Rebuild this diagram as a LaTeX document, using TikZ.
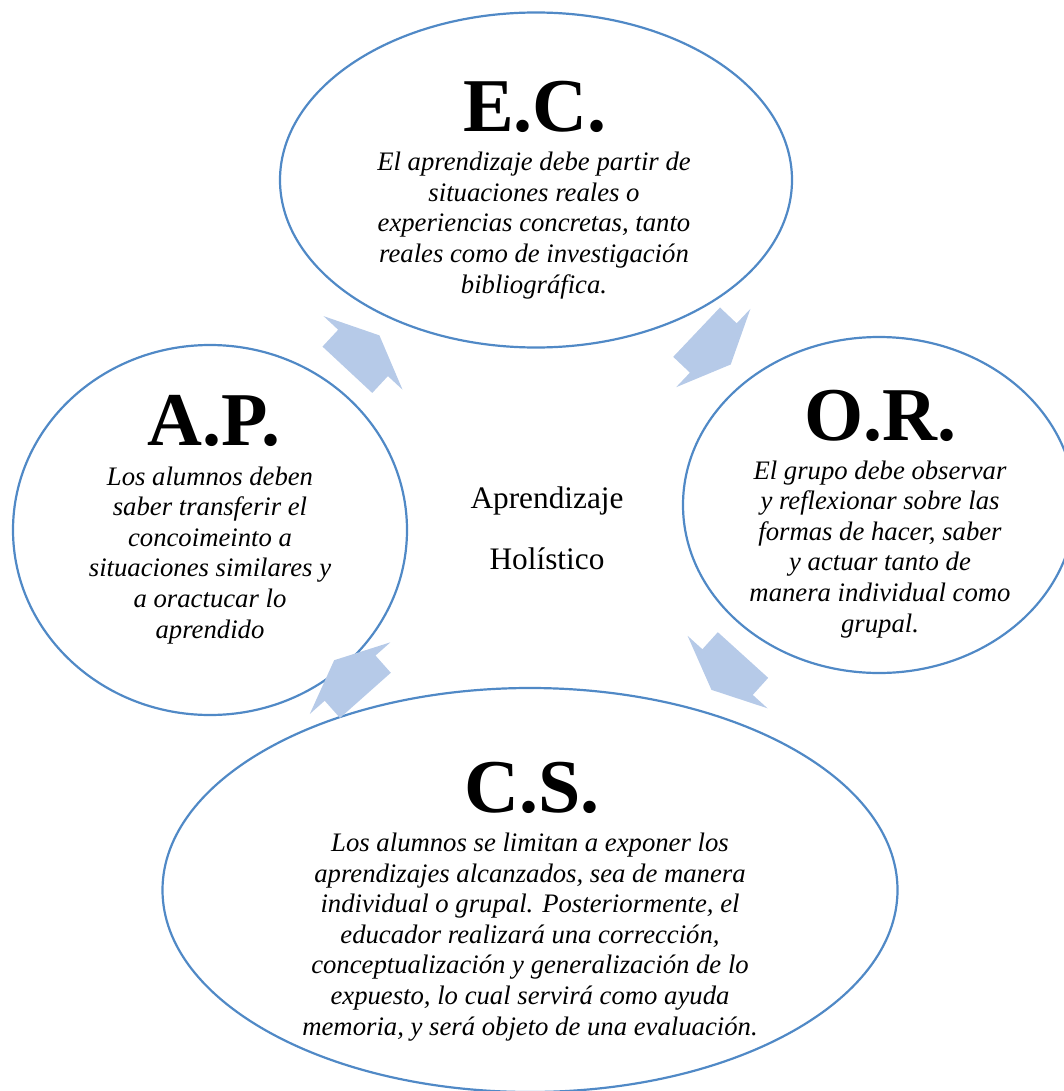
\documentclass[tikz,border=0pt]{standalone}
\usepackage{fontspec}
\setmainfont{Liberation Serif}
\usetikzlibrary{shapes.geometric,positioning,decorations.markings}
\definecolor{ringblue}{HTML}{5089C6}
\definecolor{flowblue}{HTML}{B6CAE8}
\tikzset{
  bubble/.style={ellipse, draw=ringblue, line width=2.2pt, inner sep=0pt},
  title/.style={anchor=base, inner sep=0pt, font=\fontsize{76}{80}\selectfont\bfseries},
  body/.style={anchor=base, inner sep=0pt, align=center, font=\fontsize{26.7}{30.6}\selectfont\itshape},
  flow/.style 2 args={postaction={decorate}, decoration={markings,
      mark=at position #1 with {\fill[flowblue, yshift=#2] (-23,-34) -- (0,-34) -- (0,-54) -- (24,0) -- (0,54) -- (0,34) -- (-23,34) -- cycle;}}}
}

\begin{document}
\begin{tikzpicture}[x=1pt, y=-1pt]
\useasboundingbox (0,0) rectangle (1064,1091);
\clip (0,0) rectangle (1064,1091);
%
\node[bubble, minimum width=512pt, minimum height=335pt] (ec) at (536,180) {};
\node[bubble, minimum width=394pt, minimum height=370pt] (ap) at (210,530) {};
\node[bubble, minimum width=392pt, minimum height=336pt] (or) at (879,505) {};
\node[bubble, minimum width=735pt, minimum height=404pt] (cs) at (530,890) {};
%
\node[title] (ectitle) at (535,132) {E.C.};
\node[body] (ectext) at (534,293) {El aprendizaje debe partir de\\situaciones reales o\\experiencias concretas, tanto\\reales como de investigación\\bibliográfica.};
%
\node[title] (aptitle) at (214,445) {A.P.};
\node[body] (aptext) at (210,638) {Los alumnos deben\\saber transferir el\\concoimeinto a\\situaciones similares y\\a oractucar lo\\aprendido};
%
\node[title] (ortitle) at (880,440) {O.R.};
\node[body] (ortext) at (880,632) {El grupo debe observar\\y reflexionar sobre las\\formas de hacer, saber\\y actuar tanto de\\manera individual como\\grupal.};
%
\node[title] (cstitle) at (532,812) {C.S.};
\node[body] (cstext) at (530,1035) {Los alumnos se limitan a exponer los\\aprendizajes alcanzados, sea de manera\\individual o grupal. Posteriormente, el\\educador realizará una corrección,\\conceptualización y generalización de lo\\expuesto, lo cual servirá como ayuda\\memoria, y será objeto de una evaluación.};
%
\node[anchor=base, inner sep=0pt, align=center, font=\fontsize{31.3}{61}\selectfont] (centre) at (547,569) {Aprendizaje\\Holístico};
%
\foreach \Source/\Target/\Pos/\Off in {%
        ap/ec/0.489/8.7pt,
        ec/or/0.517/0pt,
        or/cs/0.434/0pt,
        cs/ap/0.577/-6.3pt%
    }
\path[flow={\Pos}{\Off}] (\Source.center) -- (\Target.center);
\end{tikzpicture}
\end{document}
